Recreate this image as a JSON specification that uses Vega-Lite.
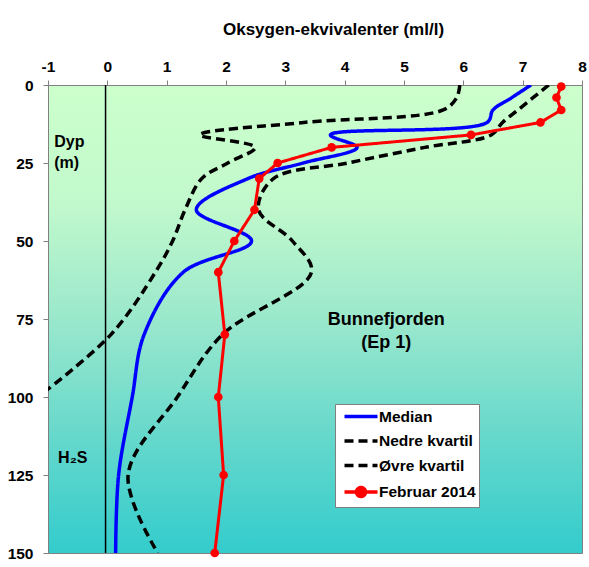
{
  "$schema": "https://vega.github.io/schema/vega-lite/v6.json",
  "width": 534,
  "height": 468,
  "autosize": "none",
  "padding": {"left": 48, "top": 85, "right": 7, "bottom": 14},
  "background": "white",
  "view": {
    "stroke": "#808080",
    "strokeWidth": 1,
    "fill": {
      "gradient": "linear", "x1": 0, "y1": 0, "x2": 0, "y2": 1,
      "stops": [
        {"offset": 0, "color": "#ccffcc"},
        {"offset": 0.25, "color": "#c2f9cc"},
        {"offset": 0.5, "color": "#9ae8cc"},
        {"offset": 0.75, "color": "#66d8cc"},
        {"offset": 1, "color": "#33cccc"}
      ]
    }
  },
  "config": {
    "font": "Liberation Sans",
    "axis": {
      "domainColor": "#808080", "tickColor": "#808080", "grid": false,
      "labelFont": "Liberation Sans", "labelFontWeight": "bold", "labelFontSize": 15.5, "labelColor": "black",
      "titleFont": "Liberation Sans", "titleFontWeight": "bold", "titleColor": "black"
    }
  },
  "datasets": {
    "profiles": [
      {"s": "Median", "d": 0, "v": 7.14},
      {"s": "Median", "d": 4, "v": 6.82},
      {"s": "Median", "d": 8, "v": 6.50},
      {"s": "Median", "d": 12, "v": 6.40},
      {"s": "Median", "d": 16, "v": 3.76},
      {"s": "Median", "d": 20, "v": 4.21},
      {"s": "Median", "d": 25, "v": 3.30},
      {"s": "Median", "d": 30, "v": 2.37},
      {"s": "Median", "d": 40, "v": 1.50},
      {"s": "Median", "d": 50, "v": 2.43},
      {"s": "Median", "d": 60, "v": 1.28},
      {"s": "Median", "d": 80, "v": 0.62},
      {"s": "Median", "d": 100, "v": 0.42},
      {"s": "Median", "d": 125, "v": 0.19},
      {"s": "Median", "d": 150, "v": 0.14},
      {"s": "Nedre kvartil", "d": 0, "v": 5.94},
      {"s": "Nedre kvartil", "d": 4, "v": 5.89},
      {"s": "Nedre kvartil", "d": 8, "v": 5.66},
      {"s": "Nedre kvartil", "d": 12, "v": 3.31},
      {"s": "Nedre kvartil", "d": 16, "v": 1.56},
      {"s": "Nedre kvartil", "d": 20, "v": 2.49},
      {"s": "Nedre kvartil", "d": 25, "v": 2.03},
      {"s": "Nedre kvartil", "d": 30, "v": 1.59},
      {"s": "Nedre kvartil", "d": 40, "v": 1.31},
      {"s": "Nedre kvartil", "d": 50, "v": 1.10},
      {"s": "Nedre kvartil", "d": 60, "v": 0.81},
      {"s": "Nedre kvartil", "d": 80, "v": 0.06},
      {"s": "Nedre kvartil", "d": 100, "v": -1.17},
      {"s": "Øvre kvartil", "d": 0, "v": 7.44},
      {"s": "Øvre kvartil", "d": 4, "v": 7.18},
      {"s": "Øvre kvartil", "d": 8, "v": 6.92},
      {"s": "Øvre kvartil", "d": 12, "v": 6.66},
      {"s": "Øvre kvartil", "d": 16, "v": 6.47},
      {"s": "Øvre kvartil", "d": 20, "v": 5.35},
      {"s": "Øvre kvartil", "d": 25, "v": 4.05},
      {"s": "Øvre kvartil", "d": 30, "v": 2.80},
      {"s": "Øvre kvartil", "d": 40, "v": 2.55},
      {"s": "Øvre kvartil", "d": 50, "v": 3.12},
      {"s": "Øvre kvartil", "d": 60, "v": 3.44},
      {"s": "Øvre kvartil", "d": 80, "v": 1.94},
      {"s": "Øvre kvartil", "d": 100, "v": 1.18},
      {"s": "Øvre kvartil", "d": 125, "v": 0.35},
      {"s": "Øvre kvartil", "d": 150, "v": 0.85},
      {"s": "Februar 2014", "d": 0.5, "v": 7.65},
      {"s": "Februar 2014", "d": 4, "v": 7.57},
      {"s": "Februar 2014", "d": 8, "v": 7.65},
      {"s": "Februar 2014", "d": 12, "v": 7.30},
      {"s": "Februar 2014", "d": 16, "v": 6.13},
      {"s": "Februar 2014", "d": 20, "v": 3.78},
      {"s": "Februar 2014", "d": 25, "v": 2.87},
      {"s": "Februar 2014", "d": 30, "v": 2.56},
      {"s": "Februar 2014", "d": 40, "v": 2.48},
      {"s": "Februar 2014", "d": 50, "v": 2.14},
      {"s": "Februar 2014", "d": 60, "v": 1.87},
      {"s": "Februar 2014", "d": 80, "v": 1.98},
      {"s": "Februar 2014", "d": 100, "v": 1.87},
      {"s": "Februar 2014", "d": 125, "v": 1.96},
      {"s": "Februar 2014", "d": 150, "v": 1.81}
    ],
    "notes": [
      {"t": "Dyp"}
    ]
  },
  "layer": [
    {
      "data": {"name": "notes"},
      "mark": {"type": "rule", "color": "black", "strokeWidth": 1.5},
      "encoding": {
        "x": {"datum": -0.03, "scale": {"domain": [-1, 8], "nice": false, "zero": false},
          "axis": {
            "orient": "top", "values": [-1, 0, 1, 2, 3, 4, 5, 6, 7, 8], "format": "d",
            "labelExpr": "replace(datum.label, '\u2212', '-')",
            "tickSize": 5, "labelPadding": 6, "labelFlush": false,
            "title": "Oksygen-ekvivalenter (ml/l)", "titleFontSize": 17, "titlePadding": 21,
            "titleX": 285, "titleAlign": "center"
          }},
        "y": {"datum": 0, "scale": {"domain": [0, 150], "reverse": true, "nice": false},
          "axis": {"values": [0, 25, 50, 75, 100, 125, 150], "format": "d", "tickSize": 5, "labelPadding": 10, "title": null, "labelFlush": false}},
        "y2": {"datum": 150}
      }
    },
    {
      "data": {"name": "profiles"},
      "transform": [{"filter": "datum.s !== 'Februar 2014'"}],
      "mark": {"type": "line", "interpolate": "catmull-rom", "strokeWidth": 3.5, "clip": true},
      "encoding": {
        "x": {"field": "v", "type": "quantitative"},
        "y": {"field": "d", "type": "quantitative"},
        "order": {"field": "d", "type": "quantitative"},
        "color": {
          "field": "s", "type": "nominal",
          "scale": {"domain": ["Median", "Nedre kvartil", "Øvre kvartil", "Februar 2014"], "range": ["#0000ff", "#000000", "#000000", "#ff0000"]},
          "legend": {
            "orient": "none", "legendX": 287, "legendY": 319, "title": null,
            "fillColor": "white", "strokeColor": "#808080", "padding": 3,
            "symbolType": "M-2.2,0L2.2,0", "symbolSize": 225, "symbolStrokeWidth": 3.5,
            "symbolOffset": 13.5, "labelOffset": 8.5, "rowPadding": 6.5,
            "labelFont": "Liberation Sans", "labelFontSize": 15.5, "labelFontWeight": "bold", "labelColor": "black",
            "encode": {
              "symbols": {
                "update": {
                  "shape": {"signal": "datum.value === 'Februar 2014' ? 'M-2.2,0L2.2,0M-0.6,0A0.6,0.6 0 1,0 0.6,0A0.6,0.6 0 1,0 -0.6,0' : 'M-2.2,0L2.2,0'"},
                  "fill": {"signal": "datum.value === 'Februar 2014' ? '#ff0000' : 'transparent'"}
                }
              }
            }
          }
        },
        "strokeDash": {
          "field": "s", "type": "nominal",
          "scale": {"domain": ["Median", "Nedre kvartil", "Øvre kvartil", "Februar 2014"], "range": [[1, 0], [9, 5], [9, 5], [1, 0]]}
        }
      }
    },
    {
      "data": {"name": "profiles"},
      "transform": [{"filter": "datum.s === 'Februar 2014'"}],
      "mark": {"type": "line", "strokeWidth": 3},
      "encoding": {
        "x": {"field": "v", "type": "quantitative"},
        "y": {"field": "d", "type": "quantitative"},
        "order": {"field": "d", "type": "quantitative"},
        "color": {"field": "s", "type": "nominal"},
        "strokeDash": {"field": "s", "type": "nominal"}
      }
    },
    {
      "data": {"name": "profiles"},
      "transform": [{"filter": "datum.s === 'Februar 2014'"}],
      "mark": {"type": "point", "filled": true, "color": "#ff0000", "size": 75, "opacity": 1},
      "encoding": {
        "x": {"field": "v", "type": "quantitative"},
        "y": {"field": "d", "type": "quantitative"}
      }
    },
    {
      "data": {"name": "notes"},
      "mark": {"type": "text", "align": "left", "baseline": "alphabetic", "fontSize": 16, "fontWeight": "bold", "color": "black"},
      "encoding": {"x": {"datum": -0.894}, "y": {"datum": 19.8}, "text": {"value": "Dyp"}}
    },
    {
      "data": {"name": "notes"},
      "mark": {"type": "text", "align": "left", "baseline": "alphabetic", "fontSize": 16, "fontWeight": "bold", "color": "black"},
      "encoding": {"x": {"datum": -0.894}, "y": {"datum": 26.6}, "text": {"value": "(m)"}}
    },
    {
      "data": {"name": "notes"},
      "mark": {"type": "text", "align": "left", "baseline": "alphabetic", "fontSize": 16, "fontWeight": "bold", "color": "black"},
      "encoding": {"x": {"datum": -0.83}, "y": {"datum": 121.2}, "text": {"value": "H₂S"}}
    },
    {
      "data": {"name": "notes"},
      "mark": {"type": "text", "align": "center", "baseline": "alphabetic", "fontSize": 18, "fontWeight": "bold", "color": "black"},
      "encoding": {"x": {"datum": 4.70}, "y": {"datum": 76.9}, "text": {"value": "Bunnefjorden"}}
    },
    {
      "data": {"name": "notes"},
      "mark": {"type": "text", "align": "center", "baseline": "alphabetic", "fontSize": 18, "fontWeight": "bold", "color": "black"},
      "encoding": {"x": {"datum": 4.70}, "y": {"datum": 84.4}, "text": {"value": "(Ep 1)"}}
    }
  ]
}
